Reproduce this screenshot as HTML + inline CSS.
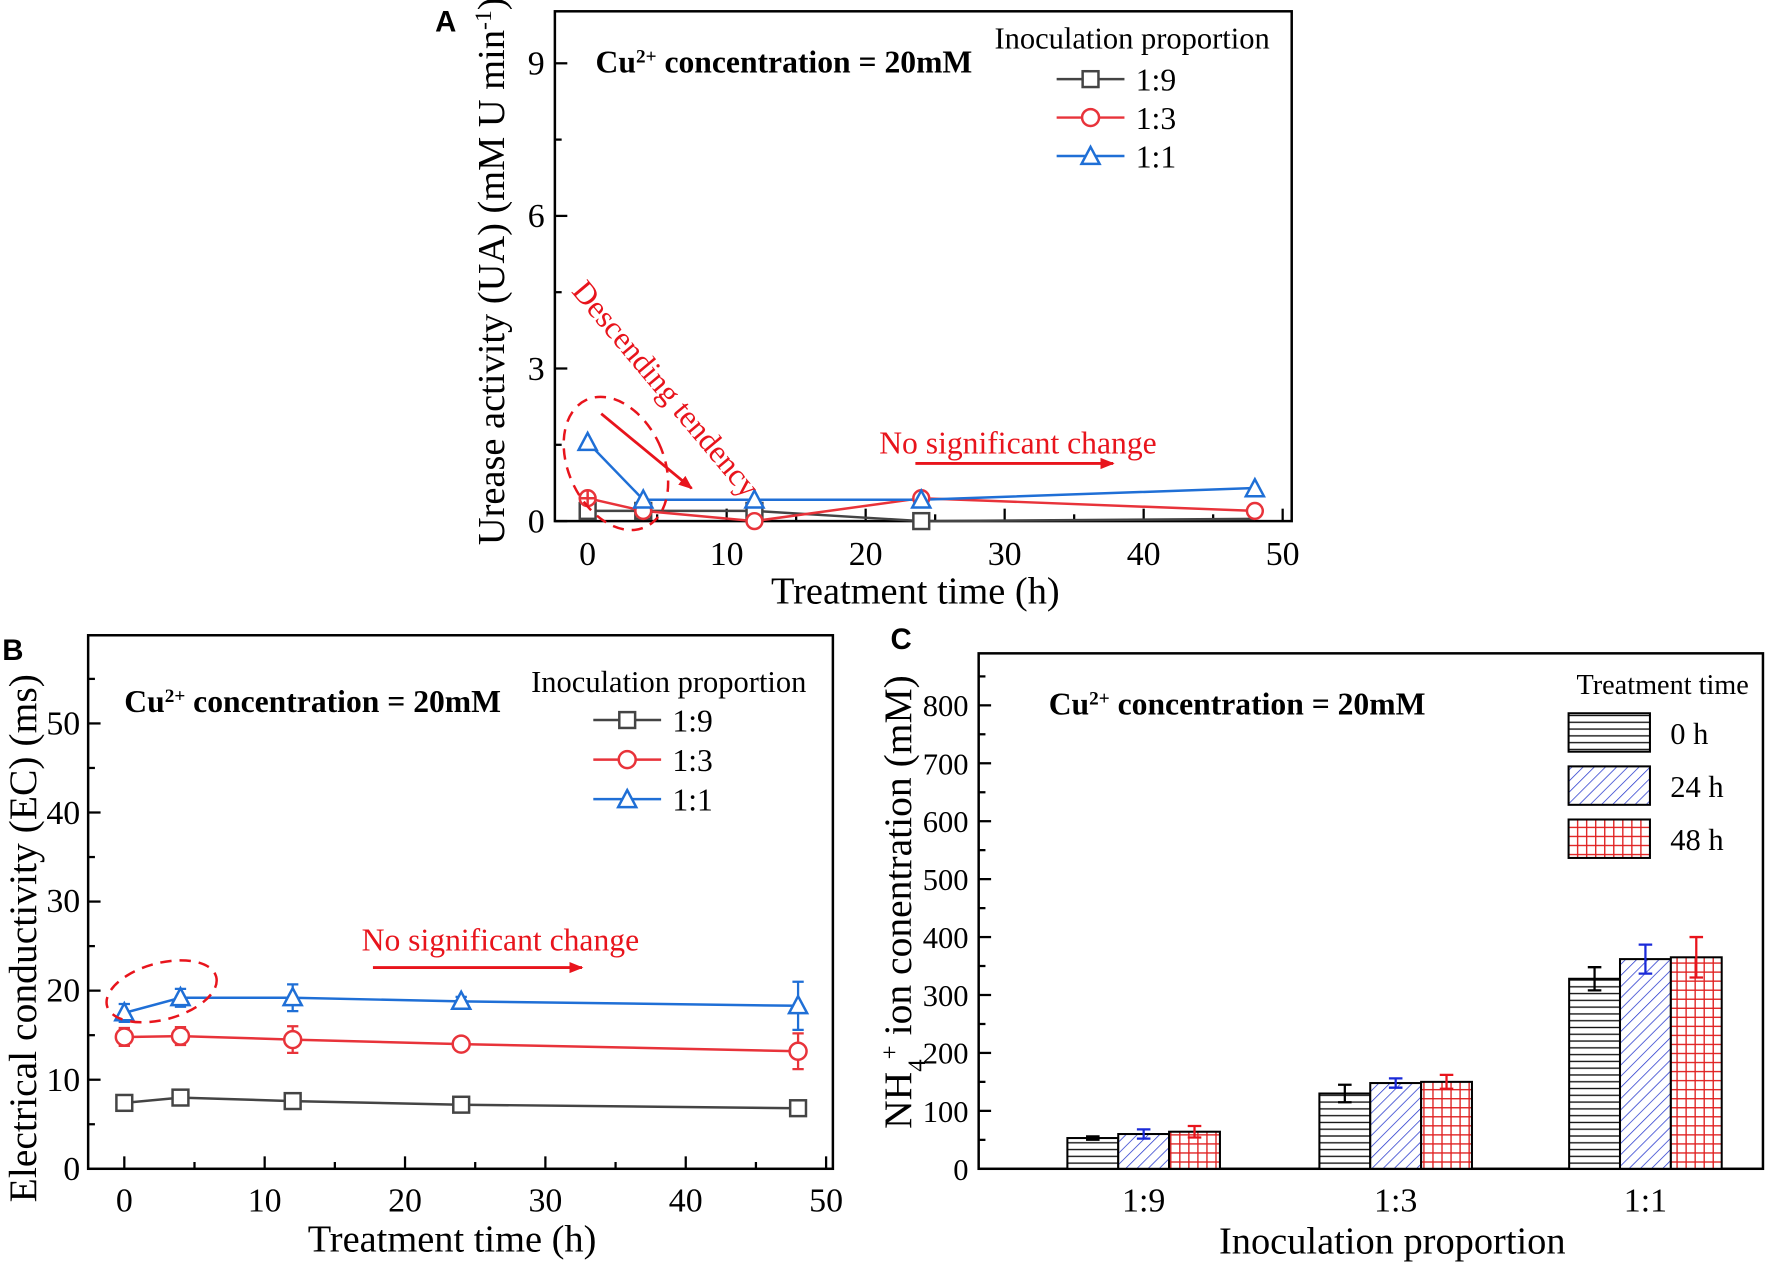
<!DOCTYPE html>
<html><head><meta charset="utf-8"><style>
html,body{margin:0;padding:0;background:#fff;}
svg{display:block;}
text{font-family:"Liberation Serif",serif;}
</style></head><body>
<svg width="1772" height="1266" viewBox="0 0 1568 1120" preserveAspectRatio="none" xmlns="http://www.w3.org/2000/svg">
<defs>
<pattern id="ph" width="8" height="6" patternUnits="userSpaceOnUse"><rect width="8" height="6" fill="#fff"/><line x1="0" y1="3" x2="8" y2="3" stroke="#111" stroke-width="1.2"/></pattern>
<pattern id="pd" width="7" height="7" patternUnits="userSpaceOnUse" patternTransform="rotate(45)"><rect width="7" height="7" fill="#fff"/><line x1="0" y1="0" x2="0" y2="7" stroke="#2233cc" stroke-width="1.3"/></pattern>
<pattern id="pg" width="8" height="8" patternUnits="userSpaceOnUse"><rect width="8" height="8" fill="#fff"/><line x1="0" y1="4" x2="8" y2="4" stroke="#e02020" stroke-width="1.2"/><line x1="4" y1="0" x2="4" y2="8" stroke="#e02020" stroke-width="1.2"/></pattern>
<marker id="ar" viewBox="0 0 10 10" refX="9" refY="5" markerWidth="5" markerHeight="5" orient="auto"><path d="M0,1 L10,5 L0,9 z" fill="#e8141c"/></marker>
</defs>

<!-- ============ PANEL A ============ -->
<text x="385" y="28" font-weight="bold" font-size="26" style="font-family:'Liberation Sans',sans-serif">A</text>
<rect x="491" y="10" width="652" height="451" fill="none" stroke="#000" stroke-width="2.2"/>
<g stroke="#000" stroke-width="2">
<line x1="520" y1="461" x2="520" y2="450"/><line x1="643" y1="461" x2="643" y2="450"/><line x1="766" y1="461" x2="766" y2="450"/><line x1="889" y1="461" x2="889" y2="450"/><line x1="1012" y1="461" x2="1012" y2="450"/><line x1="1135" y1="461" x2="1135" y2="450"/>
<line x1="581.5" y1="461" x2="581.5" y2="455"/><line x1="704.5" y1="461" x2="704.5" y2="455"/><line x1="827.5" y1="461" x2="827.5" y2="455"/><line x1="950.5" y1="461" x2="950.5" y2="455"/><line x1="1073.5" y1="461" x2="1073.5" y2="455"/>
<line x1="491" y1="461" x2="502" y2="461"/><line x1="491" y1="326" x2="502" y2="326"/><line x1="491" y1="191" x2="502" y2="191"/><line x1="491" y1="56" x2="502" y2="56"/>
<line x1="491" y1="393.5" x2="497" y2="393.5"/><line x1="491" y1="258.5" x2="497" y2="258.5"/><line x1="491" y1="123.5" x2="497" y2="123.5"/>
</g>
<g font-size="30" text-anchor="end">
<text x="482" y="471">0</text><text x="482" y="336">3</text><text x="482" y="201">6</text><text x="482" y="66">9</text>
</g>
<g font-size="30" text-anchor="middle">
<text x="520" y="500">0</text><text x="643" y="500">10</text><text x="766" y="500">20</text><text x="889" y="500">30</text><text x="1012" y="500">40</text><text x="1135" y="500">50</text>
</g>
<text x="810" y="534" font-size="34" text-anchor="middle">Treatment time (h)</text>
<text transform="translate(446,240) rotate(-90)" font-size="34" text-anchor="middle">Urease activity (UA) (mM U min<tspan baseline-shift="super" font-size="21">-1</tspan>)</text>
<text x="527" y="64" font-size="28" font-weight="bold">Cu<tspan baseline-shift="super" font-size="17">2+</tspan> concentration = 20mM</text>
<text x="880" y="43" font-size="27">Inoculation proportion</text>
<g stroke-width="2.2" fill="#fff">
<line x1="935" y1="70" x2="995" y2="70" stroke="#444"/><rect x="958" y="63" width="14" height="14" stroke="#444"/>
<line x1="935" y1="104" x2="995" y2="104" stroke="#e8333a"/><circle cx="965" cy="104" r="7.5" stroke="#e8333a"/>
<line x1="935" y1="138" x2="995" y2="138" stroke="#1f6fd6"/><path d="M965,130 L973,145 L957,145 Z" stroke="#1f6fd6"/>
</g>
<g font-size="28"><text x="1005" y="80">1:9</text><text x="1005" y="114">1:3</text><text x="1005" y="148">1:1</text></g>
<g fill="none" stroke-width="2.2">
<polyline points="520,452 569.2,452 667.6,452 815.2,461 1110.4,459" stroke="#444"/>
<polyline points="520,440.75 569.2,452 667.6,461 815.2,440.75 1110.4,452" stroke="#e8333a"/>
<polyline points="520,391.25 569.2,442.1 667.6,442.1 815.2,442.1 1110.4,431.75" stroke="#1f6fd6"/>
</g>
<g fill="#fff" stroke-width="2.2" stroke="#444">
<rect x="513" y="445" width="14" height="14"/><rect x="562.2" y="445" width="14" height="14"/><rect x="660.6" y="445" width="14" height="14"/><rect x="808.2" y="454" width="14" height="14"/>
</g>
<g fill="#fff" stroke-width="2.2" stroke="#e8333a">
<circle cx="520" cy="440.75" r="7"/><line x1="513" y1="440.75" x2="527" y2="440.75"/><line x1="520" y1="434" x2="520" y2="448"/>
<circle cx="569.2" cy="452" r="7"/><circle cx="667.6" cy="461" r="7"/><circle cx="815.2" cy="440.75" r="7"/><circle cx="1110.4" cy="452" r="7"/>
</g>
<g fill="#fff" stroke-width="2.2" stroke="#1f6fd6">
<path d="M520,383 L528,398 L512,398 Z"/><path d="M569.2,434 L577.2,449 L561.2,449 Z"/><path d="M667.6,434 L675.6,449 L659.6,449 Z"/><path d="M815.2,434 L823.2,449 L807.2,449 Z"/><path d="M1110.4,424 L1118.4,439 L1102.4,439 Z"/>
</g>
<ellipse cx="545" cy="410" rx="42" ry="62" transform="rotate(-25 545 410)" fill="none" stroke="#e8141c" stroke-width="2.2" stroke-dasharray="10,7"/>
<text transform="translate(505,258) rotate(50)" font-size="28" fill="#e8141c">Descending tendency</text>
<line x1="532" y1="366" x2="612" y2="432" stroke="#e8141c" stroke-width="2.5" marker-end="url(#ar)"/>
<text x="778" y="401" font-size="28" fill="#e8141c">No significant change</text>
<line x1="810" y1="410" x2="985" y2="410" stroke="#e8141c" stroke-width="2.5" marker-end="url(#ar)"/>

<!-- ============ PANEL B ============ -->
<text x="2" y="584" font-weight="bold" font-size="26" style="font-family:'Liberation Sans',sans-serif">B</text>
<rect x="78" y="562" width="659" height="472" fill="none" stroke="#000" stroke-width="2.2"/>
<g stroke="#000" stroke-width="2">
<line x1="110" y1="1034" x2="110" y2="1023"/><line x1="234.2" y1="1034" x2="234.2" y2="1023"/><line x1="358.4" y1="1034" x2="358.4" y2="1023"/><line x1="482.6" y1="1034" x2="482.6" y2="1023"/><line x1="606.8" y1="1034" x2="606.8" y2="1023"/><line x1="731" y1="1034" x2="731" y2="1023"/>
<line x1="172.1" y1="1034" x2="172.1" y2="1028"/><line x1="296.3" y1="1034" x2="296.3" y2="1028"/><line x1="420.5" y1="1034" x2="420.5" y2="1028"/><line x1="544.7" y1="1034" x2="544.7" y2="1028"/><line x1="668.9" y1="1034" x2="668.9" y2="1028"/>
<line x1="78" y1="955.2" x2="89" y2="955.2"/><line x1="78" y1="876.4" x2="89" y2="876.4"/><line x1="78" y1="797.6" x2="89" y2="797.6"/><line x1="78" y1="718.8" x2="89" y2="718.8"/><line x1="78" y1="640" x2="89" y2="640"/>
<line x1="78" y1="994.6" x2="84" y2="994.6"/><line x1="78" y1="915.8" x2="84" y2="915.8"/><line x1="78" y1="837" x2="84" y2="837"/><line x1="78" y1="758.2" x2="84" y2="758.2"/><line x1="78" y1="679.4" x2="84" y2="679.4"/><line x1="78" y1="600.6" x2="84" y2="600.6"/>
</g>
<g font-size="30" text-anchor="end">
<text x="71" y="1044">0</text><text x="71" y="965">10</text><text x="71" y="886">20</text><text x="71" y="807">30</text><text x="71" y="729">40</text><text x="71" y="650">50</text>
</g>
<g font-size="30" text-anchor="middle">
<text x="110" y="1072">0</text><text x="234.2" y="1072">10</text><text x="358.4" y="1072">20</text><text x="482.6" y="1072">30</text><text x="606.8" y="1072">40</text><text x="731" y="1072">50</text>
</g>
<text x="400" y="1107" font-size="34" text-anchor="middle">Treatment time (h)</text>
<text transform="translate(32,830) rotate(-90)" font-size="35" text-anchor="middle">Electrical conductivity (EC) (ms)</text>
<text x="110" y="630" font-size="28" font-weight="bold">Cu<tspan baseline-shift="super" font-size="17">2+</tspan> concentration = 20mM</text>
<text x="470" y="612" font-size="27">Inoculation proportion</text>
<g stroke-width="2.2" fill="#fff">
<line x1="525" y1="637" x2="585" y2="637" stroke="#444"/><rect x="548" y="630" width="14" height="14" stroke="#444"/>
<line x1="525" y1="672" x2="585" y2="672" stroke="#e8333a"/><circle cx="555" cy="672" r="7.5" stroke="#e8333a"/>
<line x1="525" y1="707" x2="585" y2="707" stroke="#1f6fd6"/><path d="M555,699 L563,714 L547,714 Z" stroke="#1f6fd6"/>
</g>
<g font-size="28"><text x="595" y="647">1:9</text><text x="595" y="682">1:3</text><text x="595" y="717">1:1</text></g>
<g stroke="#e8333a" stroke-width="2">
<path d="M110,909.5V925.3M105,909.5H115M105,925.3H115"/>
<path d="M159.7,908.7V924.5M154.7,908.7H164.7M154.7,924.5H164.7"/>
<path d="M259,907.9V931.5M254,907.9H264M254,931.5H264"/>
<path d="M408.1,919.7V927.7M403.1,919.7H413.1M403.1,927.7H413.1"/>
<path d="M706.2,914.2V945.8M701.2,914.2H711.2M701.2,945.8H711.2"/>
</g>
<g stroke="#1f6fd6" stroke-width="2">
<path d="M110,888.2V904M105,888.2H115M105,904H115"/>
<path d="M159.7,874.8V890.6M154.7,874.8H164.7M154.7,890.6H164.7"/>
<path d="M259,870.9V894.5M254,870.9H264M254,894.5H264"/>
<path d="M408.1,881.9V889.9M403.1,881.9H413.1M403.1,889.9H413.1"/>
<path d="M706.2,868.5V911.1M701.2,868.5H711.2M701.2,911.1H711.2"/>
</g>
<g fill="none" stroke-width="2.2">
<polyline points="110,975.7 159.7,971 259,974.1 408.1,977.3 706.2,980.4" stroke="#444"/>
<polyline points="110,917.4 159.7,916.6 259,919.7 408.1,923.7 706.2,930" stroke="#e8333a"/>
<polyline points="110,896.1 159.7,882.7 259,882.7 408.1,885.9 706.2,889.8" stroke="#1f6fd6"/>
</g>
<g fill="#fff" stroke-width="2.2" stroke="#444">
<rect x="103" y="968.7" width="14" height="14"/><rect x="152.7" y="964" width="14" height="14"/><rect x="252" y="967.1" width="14" height="14"/><rect x="401.1" y="970.3" width="14" height="14"/><rect x="699.2" y="973.4" width="14" height="14"/>
</g>
<g fill="#fff" stroke-width="2.2" stroke="#e8333a">
<circle cx="110" cy="917.4" r="7.5"/><circle cx="159.7" cy="916.6" r="7.5"/><circle cx="259" cy="919.7" r="7.5"/><circle cx="408.1" cy="923.7" r="7.5"/><circle cx="706.2" cy="930" r="7.5"/>
</g>
<g fill="#fff" stroke-width="2.2" stroke="#1f6fd6">
<path d="M110,887.6 L118,902.6 L102,902.6 Z"/><path d="M159.7,874.2 L167.7,889.2 L151.7,889.2 Z"/><path d="M259,874.2 L267,889.2 L251,889.2 Z"/><path d="M408.1,877.4 L416.1,892.4 L400.1,892.4 Z"/><path d="M706.2,881.3 L714.2,896.3 L698.2,896.3 Z"/>
</g>
<ellipse cx="143" cy="877" rx="50" ry="25" transform="rotate(-15 143 877)" fill="none" stroke="#e8141c" stroke-width="2.2" stroke-dasharray="10,7"/>
<text x="320" y="841" font-size="28" fill="#e8141c">No significant change</text>
<line x1="330" y1="856" x2="515" y2="856" stroke="#e8141c" stroke-width="2.5" marker-end="url(#ar)"/>

<!-- ============ PANEL C ============ -->
<text x="788" y="574" font-weight="bold" font-size="26" style="font-family:'Liberation Sans',sans-serif">C</text>
<rect x="866" y="578" width="694" height="456" fill="none" stroke="#000" stroke-width="2.2"/>
<g stroke="#000" stroke-width="2">
<line x1="866" y1="982.75" x2="877" y2="982.75"/><line x1="866" y1="931.5" x2="877" y2="931.5"/><line x1="866" y1="880.25" x2="877" y2="880.25"/><line x1="866" y1="829" x2="877" y2="829"/><line x1="866" y1="777.75" x2="877" y2="777.75"/><line x1="866" y1="726.5" x2="877" y2="726.5"/><line x1="866" y1="675.25" x2="877" y2="675.25"/><line x1="866" y1="624" x2="877" y2="624"/>
<line x1="866" y1="1008.4" x2="872" y2="1008.4"/><line x1="866" y1="957.1" x2="872" y2="957.1"/><line x1="866" y1="905.9" x2="872" y2="905.9"/><line x1="866" y1="854.6" x2="872" y2="854.6"/><line x1="866" y1="803.4" x2="872" y2="803.4"/><line x1="866" y1="752.1" x2="872" y2="752.1"/><line x1="866" y1="700.9" x2="872" y2="700.9"/><line x1="866" y1="649.6" x2="872" y2="649.6"/><line x1="866" y1="598.4" x2="872" y2="598.4"/>
<line x1="1012" y1="1034" x2="1012" y2="1023"/><line x1="1235" y1="1034" x2="1235" y2="1023"/><line x1="1456" y1="1034" x2="1456" y2="1023"/>
</g>
<g font-size="27" text-anchor="end">
<text x="857" y="1044">0</text><text x="857" y="992.5">100</text><text x="857" y="941">200</text><text x="857" y="890">300</text><text x="857" y="838.5">400</text><text x="857" y="787.5">500</text><text x="857" y="736">600</text><text x="857" y="685">700</text><text x="857" y="633.5">800</text>
</g>
<g font-size="30" text-anchor="middle">
<text x="1012" y="1072">1:9</text><text x="1235" y="1072">1:3</text><text x="1456" y="1072">1:1</text>
</g>
<text x="1232" y="1109" font-size="34" text-anchor="middle">Inoculation proportion</text>
<text transform="translate(806,798) rotate(-90)" font-size="35" text-anchor="middle">NH<tspan baseline-shift="sub" font-size="22">4</tspan><tspan baseline-shift="super" font-size="22">+</tspan> ion conentration (mM)</text>
<text x="928" y="632" font-size="28" font-weight="bold">Cu<tspan baseline-shift="super" font-size="17">2+</tspan> concentration = 20mM</text>
<text x="1395" y="614" font-size="25">Treatment time</text>
<g stroke="#000" stroke-width="1.8">
<rect x="1388" y="631" width="72" height="34" fill="url(#ph)"/>
<rect x="1388" y="678" width="72" height="34" fill="url(#pd)"/>
<rect x="1388" y="725" width="72" height="34" fill="url(#pg)"/>
</g>
<g font-size="27"><text x="1478" y="658">0 h</text><text x="1478" y="705">24 h</text><text x="1478" y="752">48 h</text></g>
<g stroke="#000" stroke-width="1.8">
<rect x="944.5" y="1006.8" width="45" height="27.2" fill="url(#ph)"/>
<rect x="989.5" y="1003.25" width="45" height="30.75" fill="url(#pd)"/>
<rect x="1034.5" y="1001.2" width="45" height="32.8" fill="url(#pg)"/>
<rect x="1167.5" y="967.4" width="45" height="66.6" fill="url(#ph)"/>
<rect x="1212.5" y="958.15" width="45" height="75.85" fill="url(#pd)"/>
<rect x="1257.5" y="957.1" width="45" height="76.9" fill="url(#pg)"/>
<rect x="1388.5" y="865.9" width="45" height="168.1" fill="url(#ph)"/>
<rect x="1433.5" y="848.5" width="45" height="185.5" fill="url(#pd)"/>
<rect x="1478.5" y="846.9" width="45" height="187.1" fill="url(#pg)"/>
</g>
<g stroke-width="2">
<path stroke="#000" d="M967,1005.3V1008.3M961,1005.3H973M961,1008.3H973"/>
<path stroke="#000" d="M1190,959.7V975.1M1184,959.7H1196M1184,975.1H1196"/>
<path stroke="#000" d="M1411,855.65V876.15M1405,855.65H1417M1405,876.15H1417"/>
<path stroke="#1a2ad8" d="M1012,999.15V1007.35M1006,999.15H1018M1006,1007.35H1018"/>
<path stroke="#1a2ad8" d="M1235,954.05V962.25M1229,954.05H1241M1229,962.25H1241"/>
<path stroke="#1a2ad8" d="M1456,835.7V861.3M1450,835.7H1462M1450,861.3H1462"/>
<path stroke="#e8141c" d="M1057,996.1V1006.3M1051,996.1H1063M1051,1006.3H1063"/>
<path stroke="#e8141c" d="M1280,950.95V963.25M1274,950.95H1286M1274,963.25H1286"/>
<path stroke="#e8141c" d="M1501,829V864.8M1495,829H1507M1495,864.8H1507"/>
</g>
</svg>
</body></html>
